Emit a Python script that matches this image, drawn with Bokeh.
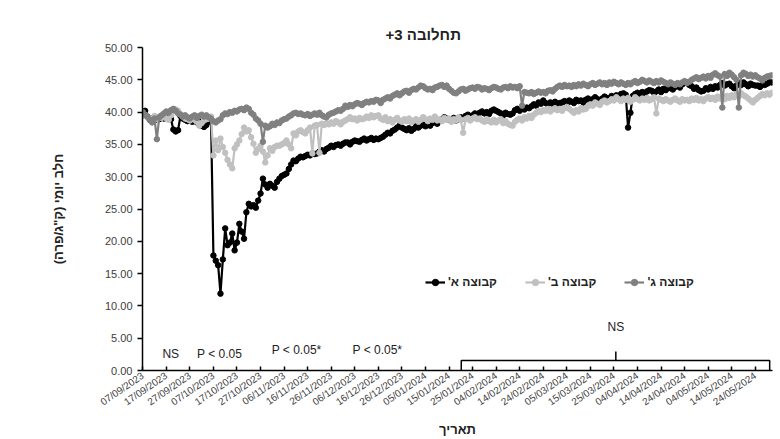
import pandas as pd
from bokeh.plotting import figure
from bokeh.models import (Range1d, FixedTicker, PrintfTickFormatter, DatetimeTickFormatter,
                          Legend, LegendItem, Label, Title)
from bokeh.embed import file_html
from bokeh.resources import INLINE

# ---------------- data ----------------
start_date = "2023-09-07"

group_a = [
    39.5, 40.2, 39.3, 38.8, 39.0, 38.7, 39.1, 38.9, 39.3, 39.0,
    39.4, 39.1, 38.9, 37.3, 37.0, 37.2, 39.4, 39.0, 38.8, 38.6,
    38.9, 38.5, 38.7, 38.4, 38.6, 37.9, 37.7, 38.0, 38.5, 38.7,
    17.8, 17.0, 16.3, 11.9, 17.2, 22.0, 19.4, 19.8, 21.2, 18.6,
    19.8, 22.7, 21.5, 20.4, 24.5, 25.8, 25.4, 25.6, 25.2, 26.3,
    27.4, 29.7, 28.8, 28.3, 28.9, 28.6, 28.3, 29.2, 29.7, 30.1,
    30.3, 30.5, 31.2, 31.9, 32.5, 32.4, 32.8, 33.1, 33.0, 33.2,
    33.4, 33.3, 33.6, 33.5, 33.6, 33.9, 34.1, 33.9, 34.3, 34.5,
    34.8, 34.6, 34.9, 35.0, 34.8, 35.1, 35.3, 35.3, 35.0, 35.4,
    35.6, 35.5, 35.4, 35.7, 35.9, 35.6, 35.8, 36.0, 35.7, 35.9,
    35.8, 36.0, 36.2, 36.5, 36.8, 36.7, 37.1, 37.3, 37.6, 37.9,
    37.6, 37.4, 37.2, 37.5, 37.1, 37.4, 37.8, 37.6, 37.9, 38.1,
    37.8, 38.0, 37.9, 38.3, 38.5, 38.2, 38.6, 38.9, 39.2, 39.0,
    38.8, 38.9, 39.1, 38.7, 38.9, 39.2, 39.0, 39.4, 39.6, 39.3,
    39.5, 39.8, 39.6, 39.9, 40.1, 39.8, 40.0, 39.7, 40.2, 40.4,
    40.2, 40.0, 39.8, 39.5, 39.9, 39.7, 39.6, 39.8, 40.3, 40.5,
    40.2, 40.6, 40.4, 40.7, 40.6, 40.9, 41.2, 41.0, 41.5, 41.3,
    41.8, 41.4, 41.2, 41.5, 41.3, 41.6, 41.2, 41.4, 41.5, 41.7,
    41.3, 41.8, 41.6, 41.4, 41.9, 41.7, 41.8, 41.5, 41.9, 42.1,
    41.8, 42.0, 42.3, 42.0, 41.8, 42.1, 42.4, 42.2, 42.0, 42.5,
    42.3, 42.6, 42.4, 42.8, 42.9, 42.7, 37.6, 39.9, 42.5, 42.8,
    43.0, 42.7, 43.1, 42.9, 43.2, 43.4, 43.3, 43.0, 43.2, 43.5,
    43.1, 43.6, 43.4, 43.8, 43.7, 43.5, 43.9, 44.1, 43.8, 44.3,
    44.5, 44.6, 44.2, 44.0, 43.6, 43.8, 43.4, 43.2, 43.3, 43.7,
    43.5, 43.9, 43.6, 44.0, 43.8, 44.2, 44.5, 44.1, 44.3, 44.4,
    44.0, 43.7, 44.1, 44.5, 44.2, 44.6, 44.3, 44.0, 44.4, 44.2,
    44.1, 44.1, 43.9, 44.3, 44.2, 44.4, 44.6, 44.6,
]

group_b = [
    39.8, 39.5, 39.2, 39.0, 38.6, 39.4, 38.9, 39.3, 39.1, 39.6,
    39.0, 38.8, 39.5, 40.1, 40.4, 40.2, 39.7, 39.3, 39.0, 38.9,
    38.7, 39.1, 38.8, 38.5, 37.9, 38.3, 38.7, 38.9, 39.0, 39.3,
    33.3, 35.6, 34.1, 35.9, 34.6, 33.7, 32.6, 31.9, 31.3, 34.4,
    35.0, 35.6, 36.6, 37.6, 37.0, 37.2, 36.1, 35.1, 33.7, 34.3,
    34.8, 33.9, 32.2, 33.3, 34.4, 34.0, 34.6, 34.8, 34.8, 35.0,
    35.2, 35.6, 35.0, 34.4, 36.7, 36.4, 37.0, 37.2, 36.9, 36.7,
    37.2, 37.6, 33.6, 37.9, 38.0, 33.7, 38.2, 38.0, 38.3, 38.1,
    38.4, 38.2, 38.6, 38.4, 38.1, 38.5, 38.7, 38.9, 39.2, 38.9,
    39.0, 38.7, 39.1, 38.9, 39.0, 39.3, 39.1, 39.5, 39.2, 39.4,
    39.5,
    39.0, 38.8, 39.2, 38.6, 38.9, 38.4, 38.8, 39.1, 38.7, 38.5,
    38.9, 38.6, 39.0, 38.4, 38.7, 38.9, 38.5, 38.8, 39.2, 38.9,
    38.6, 39.0, 38.8, 39.3, 38.7, 38.9, 38.6, 39.1, 38.8, 39.0,
    38.5, 38.9, 38.7, 39.2, 38.8, 36.8, 38.9, 39.1, 38.7, 39.0,
    39.2, 38.9, 39.0, 38.7, 38.5, 38.9, 38.6, 38.4, 38.8, 38.4,
    38.7, 38.9, 38.3, 38.6, 38.2, 38.0, 37.9, 38.5, 38.8, 39.0,
    38.7, 39.2, 39.0, 39.4, 39.1, 39.6, 39.9, 40.2, 40.0, 40.3,
    40.2, 40.5, 40.1, 40.4, 40.6, 40.3, 40.5, 40.2, 40.6, 40.8,
    40.5, 40.2, 39.9, 40.3, 40.1, 40.6, 40.4, 40.5, 40.9, 41.2,
    41.0, 41.5, 41.3, 41.1, 41.6, 41.8, 41.5, 41.7, 42.0, 41.8,
    42.3, 42.0, 41.7, 42.1, 41.9, 42.2, 41.6, 41.9, 42.3, 42.0,
    41.8, 42.1, 41.9, 42.2, 41.8, 42.0, 42.3, 39.8, 42.1, 41.9,
    41.7, 42.0, 41.8, 41.6, 41.9, 42.1, 41.8, 41.6, 42.0, 41.8,
    41.9, 41.7, 42.1, 41.9, 42.2, 41.8, 42.0, 41.7, 42.1, 42.3,
    42.0, 42.2, 41.9, 42.4, 42.1, 42.3, 42.0, 42.5, 42.2, 42.6,
    42.3, 42.8, 42.5, 42.9, 42.6, 42.4, 42.1, 41.8, 41.5, 41.9,
    42.2, 42.5, 42.8, 42.6, 42.9, 42.7, 43.0,
]

group_c = [
    40.0, 39.6, 39.3, 38.8, 38.4, 39.0, 35.8, 39.2, 39.5, 39.8,
    40.1, 39.9, 40.3, 40.5, 40.2, 39.8, 39.6, 39.3, 39.5, 39.2,
    39.0, 39.3, 39.5, 39.1, 39.4, 39.6, 39.3, 39.5, 39.2, 39.0,
    38.6, 38.4, 38.7, 38.9, 39.5, 39.8, 39.7, 40.0, 39.9, 40.2,
    40.1, 40.4, 40.5, 40.3, 40.7, 40.5, 39.9, 39.6, 39.0, 38.7,
    38.2, 35.4, 37.9, 37.6, 37.8, 38.2, 38.0, 38.4, 38.3, 38.7,
    38.9, 39.0, 39.3, 39.5, 39.8, 39.9, 39.7, 39.8, 39.6, 39.5,
    39.7, 39.4, 39.6, 39.8, 39.6, 39.9, 39.5, 39.3, 39.2, 39.6,
    39.8, 39.9, 40.1, 40.3, 40.2, 40.5, 41.0, 40.8, 41.1, 40.9,
    41.2, 41.4, 41.3, 41.1, 41.4, 41.6, 41.5, 41.7, 41.6, 41.9,
    41.8, 41.4, 41.9, 42.1, 42.3, 42.1, 42.5, 42.7, 42.9, 42.6,
    42.9, 43.2, 43.3, 43.0, 43.4, 43.6, 43.5, 43.8, 44.1, 44.0,
    43.7, 43.5, 43.6, 43.4, 43.8, 43.9, 44.1, 44.2, 43.9, 44.1,
    43.6, 43.3, 43.0, 42.9, 43.2, 43.5, 43.6, 43.3, 43.5, 43.7,
    43.8, 43.6, 43.9, 43.8, 43.5, 43.7, 43.6, 43.4, 43.7, 43.9,
    43.8, 43.6, 43.5, 43.8, 43.9, 43.7, 44.0, 43.8, 43.9, 43.7,
    44.0,
    41.0, 43.1, 43.0, 42.9, 43.1, 42.8, 43.0, 43.2, 43.0, 43.1,
    42.9, 43.3, 43.4, 43.2, 43.6, 43.9, 44.1, 43.9, 44.2, 44.0,
    44.1, 43.9, 44.2, 44.0, 44.3, 44.1, 44.4, 44.2, 44.0, 44.3,
    44.5, 44.2, 44.4, 44.6, 44.3, 44.5, 44.2, 44.6, 44.4, 44.7,
    44.5, 44.3, 44.6, 44.4, 44.2, 44.5, 44.3, 44.6, 44.8, 44.5,
    44.7, 45.0, 44.8, 44.6, 44.9, 44.7, 44.5, 44.8, 44.6, 44.9,
    44.7, 44.5, 44.3, 44.6, 44.4, 44.2, 44.5, 44.3, 44.6, 44.8,
    44.5, 44.7, 45.0, 45.2, 45.4, 45.1, 45.3, 45.5, 45.2, 45.6,
    45.3, 45.8, 46.0, 45.7, 45.5, 40.7, 45.9, 45.6, 46.1, 45.8,
    45.4, 45.0, 40.7, 45.7, 46.1, 45.9, 45.6, 45.8, 45.5, 45.7,
    45.4, 45.2, 44.9, 45.3, 45.5, 45.6, 45.7,
]

series_names = ["קבוצה א'\u200f", "קבוצה ב'\u200f", "קבוצה ג'\u200f"]
series_colors = ["#000000", "#c0c0c0", "#808080"]

tick_labels = [
    "07/09/2023", "17/09/2023", "27/09/2023", "07/10/2023", "17/10/2023", "27/10/2023",
    "06/11/2023", "16/11/2023", "26/11/2023", "06/12/2023", "16/12/2023", "26/12/2023",
    "05/01/2024", "15/01/2024", "25/01/2024", "04/02/2024", "14/02/2024", "24/02/2024",
    "05/03/2024", "15/03/2024", "25/03/2024", "04/04/2024", "14/04/2024", "24/04/2024",
    "04/05/2024", "14/05/2024", "24/05/2024",
]
y_ticks = [0, 5, 10, 15, 20, 25, 30, 35, 40, 45, 50]

title_text = "+3 תחלובה"
x_title = "תאריך"
y_title = "חלב יומי (ק\"ג/פרה)\u200f"
period_labels = ["NS", "P < 0.05", "P < 0.05*", "P < 0.05*"]
bracket_label = "NS"

# ---------------- helpers ----------------
DAY = 86400000.0
t0 = pd.Timestamp(start_date).timestamp() * 1000.0


def day(d):
    return t0 + d * DAY


def ms(ts):
    return pd.Timestamp(ts).timestamp() * 1000.0


FONT = "Liberation Sans"

p = figure(width=780, height=439, x_axis_type="datetime", output_backend="svg",
           toolbar_location=None, min_border_left=142, min_border_right=8,
           min_border_top=47, min_border_bottom=69)
p.x_range = Range1d(day(-0.1), day(267.3))
p.y_range = Range1d(0, 50)
p.xgrid.visible = False
p.ygrid.visible = False
p.outline_line_color = None
p.background_fill_color = "white"
p.border_fill_color = "white"

# axes
tick_ms = [ms(pd.to_datetime(t, format="%d/%m/%Y")) for t in tick_labels]
p.xaxis.ticker = FixedTicker(ticks=tick_ms)
fmt = "%d/%m/%Y"
p.xaxis.formatter = DatetimeTickFormatter(days=fmt, months=fmt, years=fmt, hours=fmt,
                                          hourmin=fmt, minutes=fmt, minsec=fmt,
                                          seconds=fmt, milliseconds=fmt,
                                          microseconds=fmt)
p.xaxis.major_label_orientation = 0.6
p.xaxis.major_tick_in = 4
p.xaxis.major_tick_out = 0
p.xaxis.minor_tick_line_color = None
p.xaxis.major_label_text_font = FONT
p.xaxis.major_label_text_font_size = "10px"
p.xaxis.major_label_text_color = "#404040"
p.xaxis.major_label_standoff = 4
p.xaxis.axis_line_width = 1.5
p.xaxis.major_tick_line_width = 1.5
p.xaxis.axis_label = x_title
p.xaxis.axis_label_text_font = FONT
p.xaxis.axis_label_text_font_size = "13px"
p.xaxis.axis_label_text_font_style = "bold"
p.xaxis.axis_label_text_color = "#222222"
p.xaxis.axis_label_standoff = 7

p.yaxis.ticker = FixedTicker(ticks=y_ticks)
p.yaxis.formatter = PrintfTickFormatter(format="%.2f")
p.yaxis.major_tick_in = 0
p.yaxis.major_tick_out = 5
p.yaxis.minor_tick_line_color = None
p.yaxis.major_label_text_font = FONT
p.yaxis.major_label_text_font_size = "11px"
p.yaxis.major_label_text_color = "#404040"
p.yaxis.major_label_standoff = 5
p.yaxis.axis_line_width = 1.5
p.yaxis.major_tick_line_width = 1.5
p.yaxis.axis_label = y_title
p.yaxis.axis_label_text_font = FONT
p.yaxis.axis_label_text_font_size = "13px"
p.yaxis.axis_label_text_font_style = "bold"
p.yaxis.axis_label_text_color = "#222222"
p.yaxis.axis_label_standoff = 36

# title
p.title = Title(text=title_text, align="left", offset=243, text_font=FONT,
                text_font_size="15px", text_font_style="bold", text_color="#222222",
                standoff=10)

# series
items = []
for vals, name, col in zip([group_a, group_b, group_c], series_names, series_colors):
    xs = pd.date_range(start_date, periods=len(vals), freq="D")
    lr = p.line(xs, vals, line_color=col, line_width=2.2)
    sr = p.scatter(xs, vals, marker="circle", size=5.5, fill_color=col, line_color=col)
    items.append(LegendItem(label=name, renderers=[lr, sr]))

legend = Legend(items=items, orientation="horizontal", location=(283, 80),
                label_text_font=FONT, label_text_font_size="12px",
                label_text_font_style="bold", label_text_color="#222222",
                glyph_width=20, glyph_height=16, label_standoff=3, spacing=28,
                padding=0, margin=0, border_line_color=None,
                background_fill_alpha=0)
p.add_layout(legend, "center")

# period annotations
label_pos = [(11.9, 2.5), (32.6, 2.5), (65.3, 3.1), (99.6, 3.1)]
for txt, (dx, yy) in zip(period_labels, label_pos):
    p.add_layout(Label(x=day(dx), y=yy, text=txt, text_font=FONT, text_font_size="12px",
                       text_color="#222222", text_align="center",
                       text_baseline="middle"))

# bracket over the NS period
bx0, bx1, bxm = day(135.2), day(266.1), day(200.8)
p.line([bx0, bx0, bx1, bx1], [0, 1.55, 1.55, 0], line_color="black", line_width=1.5)
p.line([bxm, bxm], [1.55, 2.95], line_color="black", line_width=1.5)
p.add_layout(Label(x=bxm, y=6.7, text=bracket_label, text_font=FONT,
                   text_font_size="12px", text_color="#222222",
                   text_align="center", text_baseline="middle"))

open("out.html", "w").write(file_html(p, INLINE))
